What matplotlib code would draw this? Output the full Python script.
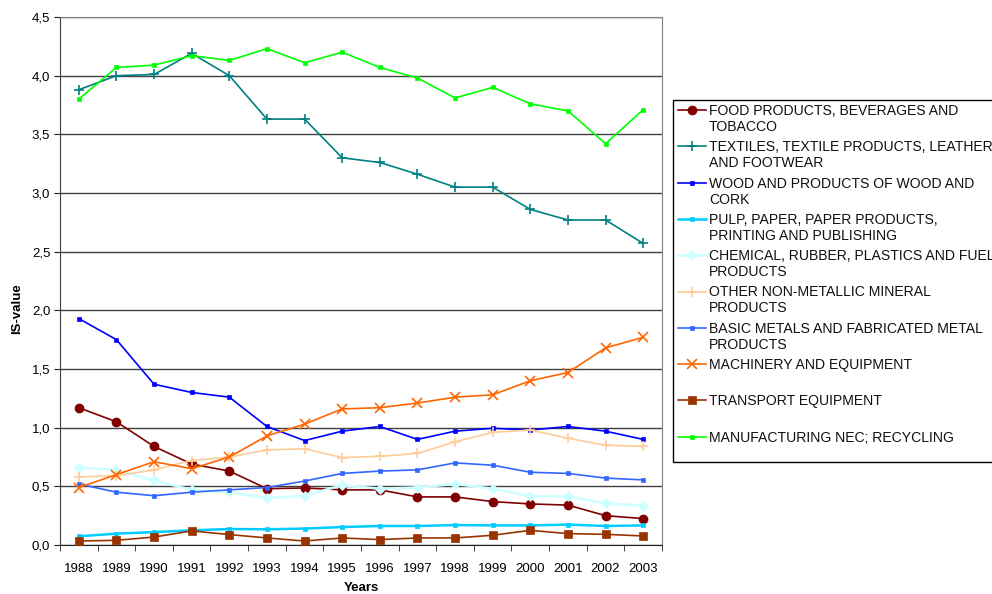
import matplotlib
matplotlib.use("Agg")
import matplotlib.pyplot as plt
from matplotlib.lines import Line2D
from matplotlib.patches import Rectangle
import numpy as np

plt.rcParams['font.family'] = ['Liberation Sans', 'DejaVu Sans']

years = list(range(1988, 2004))

food = [1.17, 1.05, 0.84, 0.69, 0.63, 0.48, 0.486, 0.47, 0.47, 0.41, 0.41, 0.37, 0.35, 0.34, 0.25, 0.225]
textiles = [3.88, 4.00, 4.01, 4.19, 4.00, 3.63, 3.63, 3.30, 3.26, 3.16, 3.05, 3.05, 2.86, 2.77, 2.77, 2.57]
wood = [1.93, 1.75, 1.37, 1.30, 1.26, 1.01, 0.89, 0.97, 1.01, 0.90, 0.97, 0.995, 0.98, 1.01, 0.97, 0.90]
pulp = [0.074, 0.097, 0.11, 0.125, 0.136, 0.134, 0.14, 0.153, 0.162, 0.162, 0.17, 0.167, 0.167, 0.174, 0.162, 0.167]
chemical = [0.66, 0.64, 0.55, 0.47, 0.45, 0.40, 0.42, 0.51, 0.48, 0.49, 0.52, 0.48, 0.415, 0.415, 0.355, 0.335]
nonmetallic = [0.58, 0.59, 0.64, 0.72, 0.75, 0.81, 0.82, 0.745, 0.756, 0.78, 0.88, 0.96, 0.98, 0.91, 0.85, 0.84]
metals = [0.52, 0.45, 0.42, 0.45, 0.47, 0.49, 0.545, 0.61, 0.63, 0.64, 0.70, 0.68, 0.62, 0.61, 0.57, 0.555]
machinery = [0.49, 0.60, 0.71, 0.65, 0.75, 0.93, 1.03, 1.16, 1.17, 1.21, 1.26, 1.28, 1.40, 1.47, 1.68, 1.77]
transport = [0.034, 0.04, 0.068, 0.12, 0.089, 0.06, 0.034, 0.06, 0.046, 0.06, 0.06, 0.083, 0.125, 0.097, 0.091, 0.077]
manufacturing = [3.80, 4.07, 4.09, 4.17, 4.13, 4.23, 4.11, 4.20, 4.07, 3.98, 3.81, 3.90, 3.76, 3.70, 3.42, 3.71]

labels = [
    "FOOD PRODUCTS, BEVERAGES AND\nTOBACCO",
    "TEXTILES, TEXTILE PRODUCTS, LEATHER\nAND FOOTWEAR",
    "WOOD AND PRODUCTS OF WOOD AND\nCORK",
    "PULP, PAPER, PAPER PRODUCTS,\nPRINTING AND PUBLISHING",
    "CHEMICAL, RUBBER, PLASTICS AND FUEL\nPRODUCTS",
    "OTHER NON-METALLIC MINERAL\nPRODUCTS",
    "BASIC METALS AND FABRICATED METAL\nPRODUCTS",
    "MACHINERY AND EQUIPMENT",
    "TRANSPORT EQUIPMENT",
    "MANUFACTURING NEC; RECYCLING",
]
series = [food, textiles, wood, pulp, chemical, nonmetallic, metals, machinery, transport, manufacturing]

# colour, marker, marker size, line width, marker edge width
styles = [
    ("#800000", "o", 6.0, 1.2, 1.0),
    ("#008080", "+", 7.0, 1.2, 1.2),
    ("#0000FF", "s", 2.5, 1.2, 0.5),
    ("#00CCFF", "s", 2.5, 1.8, 0.5),
    ("#CCFFFF", "D", 5.0, 1.8, 0.5),
    ("#FFCC99", "+", 7.0, 1.2, 1.2),
    ("#3366FF", "s", 2.5, 1.2, 0.5),
    ("#FF6600", "x", 6.5, 1.2, 1.2),
    ("#993300", "s", 5.5, 1.2, 0.5),
    ("#00FF00", "s", 2.5, 1.2, 0.5),
]

W, H = 992, 594
fig = plt.figure(figsize=(W / 100, H / 100), dpi=100)
ax = fig.add_axes([60 / W, (H - 545) / H, (662 - 60) / W, (545 - 17) / H])

x = np.arange(len(years))
for vals, (c, m, ms, lw, mew) in zip(series, styles):
    ax.plot(x, vals, color=c, marker=m, markersize=ms, linewidth=lw,
            markeredgewidth=mew, markeredgecolor=c, markerfacecolor=c, zorder=3)

ax.set_xlim(-0.5, len(years) - 0.5)
ax.set_ylim(0, 4.5)
yt = np.arange(0, 4.51, 0.5)
ax.set_yticks(yt)
ax.set_yticklabels([f"{v:.1f}".replace(".", ",") for v in yt], fontsize=9.5)
ax.set_xticks(x)
ax.set_xticklabels([str(y) for y in years], fontsize=9.5)
ax.set_xticks(np.arange(-0.5, len(years)), minor=True)
ax.tick_params(axis='x', which='major', length=0, pad=13)
ax.tick_params(axis='x', which='minor', length=4, direction='out', color='#222222')
ax.tick_params(axis='y', length=4, direction='out', color='#222222', pad=3)
ax.yaxis.grid(True, color='#404040', linewidth=1.0)
ax.set_axisbelow(True)
for side in ['top', 'right']:
    ax.spines[side].set_color('#808080')
ax.spines['left'].set_color('#404040')
ax.spines['bottom'].set_color('#222222')

fig.text(361 / W, 1 - 588 / H, "Years", ha='center', va='center', fontsize=9.5, fontweight='bold')
fig.text(17 / W, 1 - 309 / H, "IS-value", ha='center', va='center', rotation=90,
         fontsize=9.5, fontweight='bold')

# legend box drawn by hand so each key sits on the first line of its label
fig.add_artist(Rectangle((673 / W, 1 - 462 / H), (1000 - 673) / W, (462 - 100) / H,
                         transform=fig.transFigure, facecolor='white',
                         edgecolor='black', linewidth=1.0))
row0, step = 110, 36.3
for i, (lab, (c, m, ms, lw, mew)) in enumerate(zip(labels, styles)):
    yc = row0 + i * step
    fy = 1 - yc / H
    fig.add_artist(Line2D([678 / W, 692 / W, 706 / W], [fy, fy, fy], transform=fig.transFigure,
                          color=c, marker=m, markersize=ms, linewidth=lw, markevery=[1],
                          markeredgewidth=mew, markeredgecolor=c, markerfacecolor=c))
    for j, line in enumerate(lab.split("\n")):
        fig.text(709 / W, 1 - (yc + 16 * j + 5) / H, line, ha='left', va='baseline',
                 fontsize=10.1, color='#111111')

fig.savefig("out.png", dpi=100)
